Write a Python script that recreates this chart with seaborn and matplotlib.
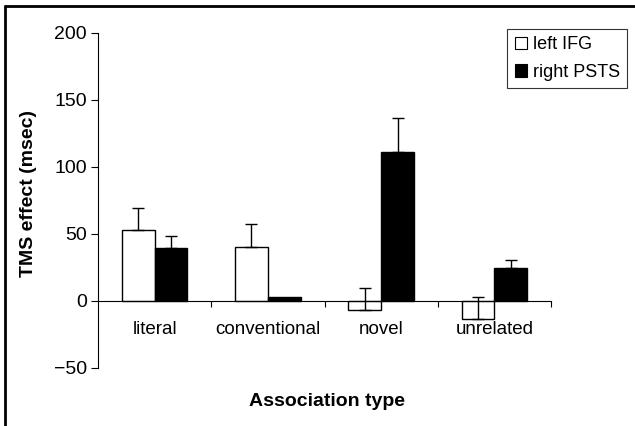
import numpy as np
import pandas as pd
import matplotlib
matplotlib.use("Agg")
import matplotlib.pyplot as plt
from matplotlib.patches import Patch
from matplotlib.lines import Line2D
import seaborn as sns

# ============================================================
# DATA
# ============================================================
categories = ["literal", "conventional", "novel", "unrelated"]
sites = ["left IFG", "right PSTS"]
left_ifg = [52.5, 40, -7, -13.5]
right_psts = [39, 3, 111, 24.5]
left_ifg_err = [16.5, 17, 16.5, 16.5]
right_psts_err = [9, 0, 25.5, 5.5]

df = pd.DataFrame({
    "Association type": categories * 2,
    "Site": [sites[0]] * 4 + [sites[1]] * 4,
    "effect": left_ifg + right_psts,
    "err": left_ifg_err + right_psts_err,
})

sns.set_theme(style="white")
plt.rcParams["font.family"] = ["Liberation Sans", "DejaVu Sans"]
plt.rcParams["text.color"] = "black"
plt.rcParams["axes.labelcolor"] = "black"
plt.rcParams["xtick.color"] = "black"
plt.rcParams["ytick.color"] = "black"
FS = 13

fig = plt.figure(figsize=(6.35, 4.26), dpi=100)
ax = fig.add_axes([98 / 635, 1 - 367.5 / 426, 453 / 635, 334.5 / 426])

sns.barplot(
    data=df, x="Association type", y="effect", hue="Site",
    order=categories, hue_order=sites,
    palette=["white", "black"], edgecolor="black", linewidth=1.0,
    width=0.58, gap=0, errorbar=None, legend=False, ax=ax,
)

# plus-only error bars, as in the original figure
for patch, (_, row) in zip(ax.patches, df.iterrows()):
    if row["err"] <= 0:
        continue
    xc = patch.get_x() + patch.get_width() / 2
    ax.errorbar(xc, row["effect"], yerr=[[0], [row["err"]]],
                fmt="none", ecolor="black", elinewidth=1.0,
                capsize=4, capthick=1.0)

ax.set_xlim(-0.5, 3.5)
ax.set_ylim(-50, 200)
ax.set_yticks([-50, 0, 50, 100, 150, 200])
ax.set_yticklabels(["\u221250", "0", "50", "100", "150", "200"])

# category labels as minor ticks, boundary marks as major ticks
ax.set_xticks([0.5, 1.5, 2.5, 3.5])
ax.set_xticklabels([])
ax.set_xticks(range(4), minor=True)
ax.set_xticklabels(categories, minor=True)
ax.tick_params(axis="x", which="major", direction="out", length=4, width=0.8,
               bottom=True, color="black")
ax.tick_params(axis="x", which="minor", length=0, pad=15, labelsize=FS + 0.5,
               labelcolor="black")
ax.tick_params(axis="y", direction="out", length=5, width=0.8, left=True,
               color="black", pad=3, labelsize=FS + 1, labelcolor="black")

for side in ["top", "right"]:
    ax.spines[side].set_visible(False)
ax.spines["bottom"].set_position(("data", 0))
for side in ["bottom", "left"]:
    ax.spines[side].set_color("black")
    ax.spines[side].set_linewidth(0.8)

ax.set_xlabel("")
ax.set_ylabel("TMS effect (msec)", fontsize=FS + 1, fontweight="bold", color="black")
ax.yaxis.set_label_coords(-0.135, 0.52)
fig.text(327 / 635, 1 - 402 / 426, "Association type", fontsize=FS + 1,
         fontweight="bold", ha="center", va="center", color="black")

handles = [Patch(facecolor="white", edgecolor="black", linewidth=0.8),
           Patch(facecolor="black", edgecolor="black", linewidth=0.8)]
leg = fig.legend(handles, sites, loc="upper right",
                 bbox_to_anchor=(627 / 635, 1 - 29 / 426),
                 fontsize=FS, frameon=True, fancybox=False,
                 handlelength=0.7, handleheight=0.7, handletextpad=0.3,
                 borderpad=0.4, labelspacing=0.6, borderaxespad=0)
leg.get_frame().set_edgecolor("black")
leg.get_frame().set_linewidth(0.8)

# partial frame around the figure (left and top edges)
fig.add_artist(Line2D([5 / 635, 5 / 635], [0, 1 - 6 / 426],
                      transform=fig.transFigure, color="black", linewidth=2))
fig.add_artist(Line2D([5 / 635, 1], [1 - 6 / 426, 1 - 6 / 426],
                      transform=fig.transFigure, color="black", linewidth=2))

fig.savefig("out.png", dpi=100)
